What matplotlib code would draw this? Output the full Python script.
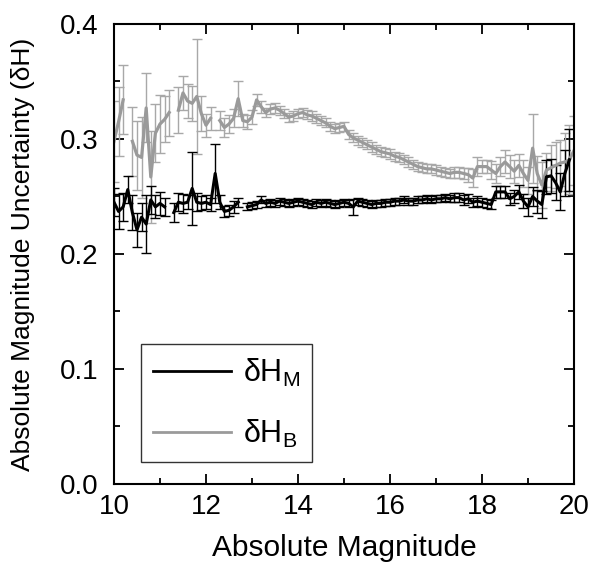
import matplotlib
matplotlib.use("Agg")
import matplotlib.pyplot as plt
from matplotlib.lines import Line2D
import numpy as np

nan = np.nan

# absolute magnitude bins (0.1 mag)
H = np.round(np.arange(100, 201) / 10, 1)

# dH_B (grey) and its error
dHB = [0.298, 0.315, 0.334, nan, 0.298, 0.286, 0.284, 0.327, 0.267, 0.305,
       0.313, 0.317, 0.323, nan, 0.325, 0.340, 0.333, 0.331, 0.337, 0.322,
       0.312, 0.318, nan, 0.316, 0.310, 0.313, 0.318, 0.335, 0.316, 0.315,
       0.319, 0.334, 0.328, 0.323, 0.326, 0.327, 0.325, 0.322, 0.319, 0.320,
       0.322, 0.323, 0.321, 0.320, 0.318, 0.316, 0.314, 0.311, 0.309, 0.310,
       0.311, 0.304, 0.301, 0.299, 0.297, 0.295, 0.293, 0.291, 0.289, 0.288,
       0.287, 0.285, 0.284, 0.282, 0.280, 0.278, 0.276, 0.275, 0.274, 0.274,
       0.273, 0.272, 0.271, 0.270, 0.271, 0.271, 0.270, 0.269, 0.266, 0.276,
       0.276, 0.276, 0.273, 0.270, 0.276, 0.280, 0.276, 0.272, 0.277, 0.270,
       0.264, 0.292, 0.270, 0.260, 0.273, 0.275, 0.277, 0.279, 0.280, 0.282,
       0.290]
errB = [0.035, 0.030, 0.030, nan, 0.030, 0.030, 0.035, 0.030, 0.040, 0.025,
        0.025, 0.020, 0.020, nan, 0.020, 0.015, 0.015, 0.015, 0.050, 0.015,
        0.010, 0.010, nan, 0.008, 0.008, 0.008, 0.008, 0.015, 0.006, 0.006,
        0.006, 0.005, 0.005, 0.004, 0.004, 0.004, 0.004, 0.004, 0.004, 0.004,
        0.004, 0.004, 0.004, 0.004, 0.004, 0.004, 0.004, 0.004, 0.004, 0.004,
        0.004, 0.004, 0.004, 0.004, 0.004, 0.004, 0.004, 0.004, 0.004, 0.004,
        0.004, 0.004, 0.004, 0.004, 0.004, 0.004, 0.004, 0.004, 0.004, 0.004,
        0.004, 0.004, 0.004, 0.004, 0.005, 0.005, 0.005, 0.006, 0.008, 0.008,
        0.006, 0.006, 0.008, 0.008, 0.008, 0.010, 0.010, 0.010, 0.010, 0.012,
        0.012, 0.030, 0.015, 0.020, 0.015, 0.020, 0.020, 0.020, 0.025, 0.030,
        0.030]

# dH_M (black) and its error
dHM = [0.245, 0.237, 0.241, 0.256, 0.236, 0.221, 0.232, 0.226, 0.247, 0.241,
       0.244, 0.241, nan, 0.236, 0.245, 0.244, 0.245, 0.257, 0.245, 0.244,
       0.245, 0.243, 0.270, 0.245, 0.237, 0.238, 0.241, 0.245, nan, 0.241,
       0.242, 0.243, 0.247, 0.244, 0.245, 0.244, 0.246, 0.245, 0.244, 0.245,
       0.246, 0.245, 0.244, 0.243, 0.245, 0.244, 0.245, 0.244, 0.243, 0.244,
       0.245, 0.244, 0.241, 0.246, 0.245, 0.244, 0.243, 0.244, 0.244, 0.245,
       0.245, 0.246, 0.246, 0.247, 0.246, 0.246, 0.247, 0.247, 0.248, 0.247,
       0.248, 0.248, 0.249, 0.248, 0.249, 0.249, 0.247, 0.248, 0.245, 0.246,
       0.245, 0.244, 0.243, 0.254, 0.254, 0.254, 0.248, 0.250, 0.254, 0.246,
       0.241, 0.250, 0.246, 0.243, 0.267, 0.268, 0.262, 0.254, 0.270, 0.282,
       nan]
errM = [0.012, 0.015, 0.012, 0.012, 0.015, 0.015, 0.012, 0.025, 0.012, 0.010,
        0.010, 0.008, nan, 0.008, 0.008, 0.008, 0.006, 0.032, 0.008, 0.006,
        0.006, 0.006, 0.026, 0.006, 0.005, 0.005, 0.005, 0.004, nan, 0.003,
        0.003, 0.003, 0.003, 0.003, 0.003, 0.003, 0.003, 0.003, 0.003, 0.003,
        0.003, 0.003, 0.003, 0.003, 0.003, 0.003, 0.003, 0.003, 0.003, 0.003,
        0.003, 0.003, 0.007, 0.003, 0.003, 0.003, 0.003, 0.003, 0.003, 0.003,
        0.003, 0.003, 0.003, 0.003, 0.003, 0.003, 0.003, 0.003, 0.003, 0.003,
        0.003, 0.003, 0.003, 0.003, 0.004, 0.004, 0.004, 0.004, 0.004, 0.004,
        0.004, 0.004, 0.004, 0.005, 0.005, 0.005, 0.005, 0.006, 0.006, 0.006,
        0.008, 0.008, 0.010, 0.012, 0.015, 0.015, 0.015, 0.016, 0.020, 0.027,
        nan]

plt.rcParams['font.family'] = ['Liberation Sans', 'DejaVu Sans']
plt.rcParams['mathtext.default'] = 'regular'

fig = plt.figure(figsize=(5.93, 5.67), dpi=100)
ax = fig.add_axes([0.1922, 0.1464, 0.7758, 0.8113])

ax.errorbar(H, dHB, yerr=errB, color='#9a9a9a', ecolor='#a8a8a8', lw=2.3,
            elinewidth=1.0, capsize=3.5, capthick=1.0)
ax.errorbar(H, dHM, yerr=errM, color='black', ecolor='black', lw=2.2,
            elinewidth=1.0, capsize=3.5, capthick=1.0)

ax.set_xlim(10, 20)
ax.set_ylim(0.0, 0.4)
ax.set_xticks([10, 12, 14, 16, 18, 20])
ax.set_xticks([11, 13, 15, 17, 19], minor=True)
ax.set_yticks([0.0, 0.1, 0.2, 0.3, 0.4])
ax.set_yticks([0.05, 0.15, 0.25, 0.35], minor=True)
ax.set_yticklabels(['0.0', '0.1', '0.2', '0.3', '0.4'])
ax.tick_params(which='both', direction='in', top=True, right=True,
               labelsize=20, width=1.3)
ax.tick_params(which='major', length=7)
ax.tick_params(which='minor', length=4)
ax.tick_params(axis='x', pad=7)
ax.tick_params(axis='y', pad=11)
for s in ax.spines.values():
    s.set_linewidth(1.5)

ax.set_xlabel('Absolute Magnitude', fontsize=21.5, labelpad=10)
ax.set_ylabel('Absolute Magnitude Uncertainty (δH)', fontsize=19, labelpad=18)

hM = Line2D([], [], color='black', lw=2)
hB = Line2D([], [], color='#9a9a9a', lw=2)
leg = ax.legend([hM, hB], ['δH$_{M}$', 'δH$_{B}$'], loc='lower left',
                bbox_to_anchor=(0.0587, 0.0478), borderaxespad=0,
                fontsize=22, frameon=True, fancybox=False,
                edgecolor='black', handlelength=2.55, borderpad=0.4,
                labelspacing=0.95, handletextpad=0.38)
leg.get_frame().set_linewidth(1.0)

fig.savefig('out.png', dpi=100)
